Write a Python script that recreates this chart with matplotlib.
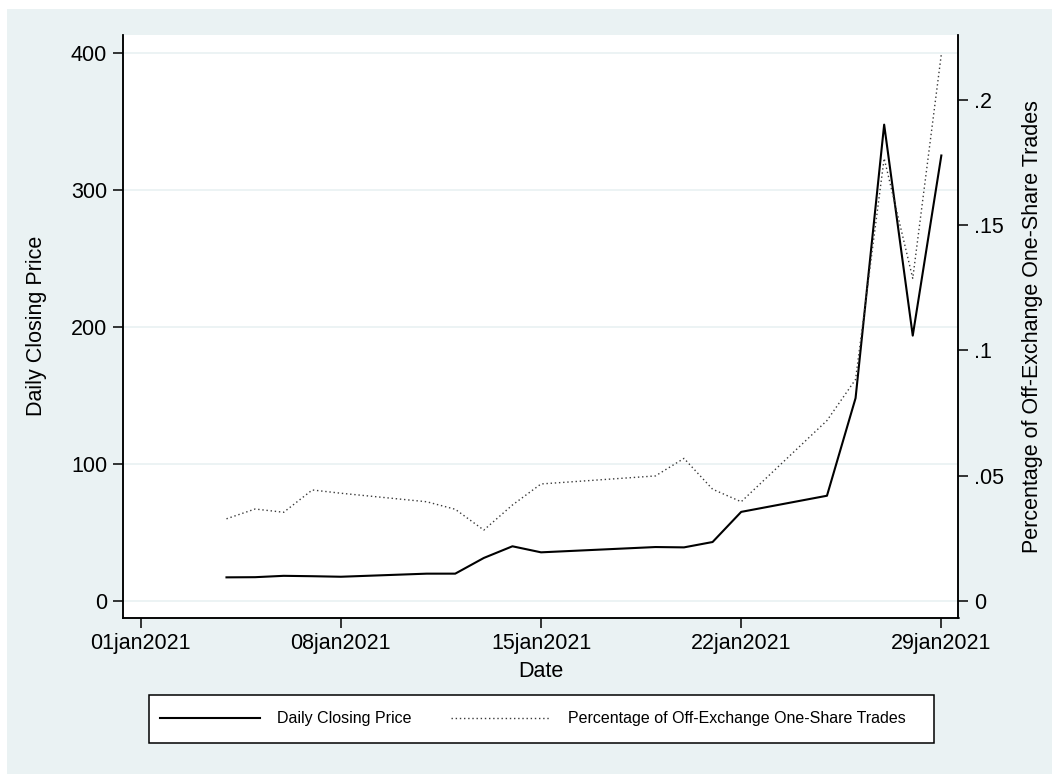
import matplotlib
matplotlib.use("Agg")
import matplotlib.pyplot as plt
from matplotlib.patches import Rectangle
import datetime as dt

# ---- data ----
dates = ["2021-01-04", "2021-01-05", "2021-01-06", "2021-01-07", "2021-01-08",
         "2021-01-11", "2021-01-12", "2021-01-13", "2021-01-14", "2021-01-15",
         "2021-01-19", "2021-01-20", "2021-01-21", "2021-01-22",
         "2021-01-25", "2021-01-26", "2021-01-27", "2021-01-28", "2021-01-29"]
price = [17.25, 17.37, 18.36, 18.08, 17.69,
         19.94, 19.95, 31.40, 39.91, 35.50,
         39.36, 39.12, 43.03, 65.01,
         76.79, 147.98, 347.51, 193.60, 325.00]
pct_one_share = [0.0328, 0.0367, 0.0354, 0.0443, 0.0430,
                 0.0396, 0.0366, 0.0283, 0.0383, 0.0467,
                 0.0499, 0.0569, 0.0446, 0.0396,
                 0.0720, 0.0884, 0.1766, 0.1287, 0.2182]
xtick_dates = ["2021-01-01", "2021-01-08", "2021-01-15", "2021-01-22", "2021-01-29"]
xtick_labels = ["01jan2021", "08jan2021", "15jan2021", "22jan2021", "29jan2021"]
left_ticks = [0, 100, 200, 300, 400]
left_labels = ["0", "100", "200", "300", "400"]
right_ticks = [0, 0.05, 0.1, 0.15, 0.2]
right_labels = ["0", ".05", ".1", ".15", ".2"]
series_names = ["Daily Closing Price", "Percentage of Off-Exchange One-Share Trades"]

plt.rcParams['font.family'] = ['Liberation Sans', 'DejaVu Sans']

BG = "#EAF2F3"
W, H = 1052, 774
fig = plt.figure(figsize=(W / 100, H / 100), dpi=100, facecolor="white")
fig.patches.append(Rectangle((7 / W, 0), 1 - 7 / W, (H - 9) / H,
                             transform=fig.transFigure, facecolor=BG,
                             edgecolor="none", zorder=-10))

L, R, T, B = 123, 958.5, 35, 617.5
ax = fig.add_axes([L / W, 1 - B / H, (R - L) / W, (B - T) / H])
ax.set_facecolor("white")

x = [dt.datetime.strptime(d, "%Y-%m-%d") for d in dates]
xt = [dt.datetime.strptime(d, "%Y-%m-%d") for d in xtick_dates]

l1, = ax.plot(x, price, color="black", lw=1.5, zorder=3)
ax.set_ylim(-12.04, 412.9)
jan1 = dt.datetime(2021, 1, 1)
ax.set_xlim(jan1 - dt.timedelta(days=0.619), jan1 + dt.timedelta(days=28.60))

ax.set_yticks(left_ticks)
ax.set_yticklabels(left_labels)
ax.set_xticks(xt)
ax.set_xticklabels(xtick_labels)
ax.yaxis.grid(True, color=BG, lw=1.3)
ax.set_axisbelow(True)

ax2 = ax.twinx()
l2, = ax2.plot(x, pct_one_share, color="#3a3a3a", lw=1.0,
               linestyle=(0, (1, 2)), zorder=3)
ax2.set_ylim(-0.00658, 0.22582)
ax2.set_yticks(right_ticks)
ax2.set_yticklabels(right_labels)

for a in (ax, ax2):
    a.spines["top"].set_visible(False)
    for s in ("left", "right", "bottom"):
        a.spines[s].set_linewidth(1.1)
        a.spines[s].set_color("black")
    a.tick_params(axis="both", length=7, width=1.1, pad=4.5,
                  labelsize=15.5, colors="black")

ax.set_ylabel("Daily Closing Price", fontsize=15.5)
ax.yaxis.set_label_coords(-0.091, 0.5)
ax2.set_ylabel("Percentage of Off-Exchange One-Share Trades", fontsize=15.5)
ax2.yaxis.set_label_coords(1.076, 0.5)
ax.set_xlabel("Date", fontsize=15.5)
ax.xaxis.set_label_coords(0.5003, -0.0747)

# legend frame (Stata style box)
lx0, ly0, lx1, ly1 = 149, 694.7, 933.7, 743.3
fig.patches.append(Rectangle((lx0 / W, 1 - ly1 / H), (lx1 - lx0) / W, (ly1 - ly0) / H,
                             transform=fig.transFigure, facecolor="white",
                             edgecolor="black", linewidth=1.1, zorder=5))
leg = fig.legend([l1, l2], series_names, loc="center left",
                 bbox_to_anchor=(160 / W, 1 - 719 / H),
                 ncol=2, fontsize=11.5, frameon=False,
                 handlelength=6.25, handletextpad=1.06, columnspacing=2.5,
                 borderpad=0.0, borderaxespad=0.0)
leg.set_zorder(6)

fig.savefig("out.png", dpi=100, facecolor="white")
